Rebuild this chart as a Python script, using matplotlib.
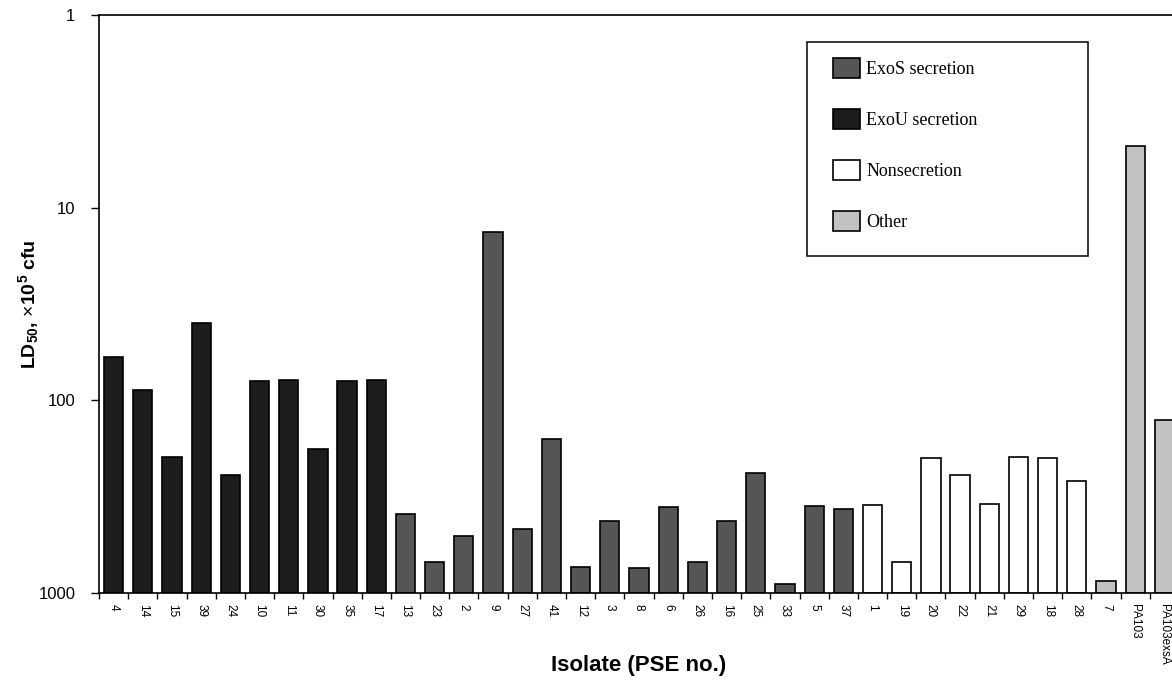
import numpy as np
import matplotlib
matplotlib.use('Agg')
import matplotlib.pyplot as plt
from matplotlib.patches import Patch, Rectangle

# LD50 per isolate (x10^5 cfu)
isolates = ['4', '14', '15', '39', '24', '10', '11', '30', '35', '17',
            '13', '23', '2', '9', '27', '41', '12', '3', '8', '6', '26', '16',
            '25', '33', '5', '37',
            '1', '19', '20', '22', '21', '29', '18', '28',
            '7', 'PA103', 'PA103exsA']
ld50 = [59.6, 88.7, 198, 39.7, 244, 79.4, 78.5, 179.5, 79.4, 78.5,
        391, 687, 508, 13.4, 466, 159, 733, 424, 741, 359, 690, 424,
        237, 902, 353, 367,
        348, 687, 200, 244, 344, 198, 200, 262,
        865, 4.79, 127]
groups = (['ExoU secretion'] * 10 + ['ExoS secretion'] * 16 +
          ['Nonsecretion'] * 8 + ['Other'] * 3)

legend_order = ['ExoS secretion', 'ExoU secretion', 'Nonsecretion', 'Other']
group_colors = {'ExoS secretion': '#555555',
                'ExoU secretion': '#1c1c1c',
                'Nonsecretion': '#ffffff',
                'Other': '#c2c2c2'}

plt.rcParams['font.family'] = 'Liberation Sans'
plt.rcParams['mathtext.fontset'] = 'custom'
plt.rcParams['mathtext.rm'] = 'Liberation Sans'
plt.rcParams['mathtext.bf'] = 'Liberation Sans:bold'

W, H = 1172, 698
fig = plt.figure(figsize=(W / 100, H / 100), dpi=100)
# axes runs a bit past the right edge of the figure, like the cropped original
ax = fig.add_axes([99 / W, 105 / H, 1080 / W, 578 / H])

x = np.arange(len(isolates))
vals = np.array(ld50)
base = 1000
ax.bar(x, base - vals, bottom=vals, width=0.66,
       color=[group_colors[g] for g in groups],
       edgecolor='black', linewidth=1.2)

ax.set_yscale('log')
ax.set_ylim(1000, 1)
ax.set_yticks([1, 10, 100, 1000])
ax.set_yticklabels(['1', '10', '100', '1000'])
ax.yaxis.set_minor_locator(matplotlib.ticker.NullLocator())
ax.tick_params(axis='y', direction='out', length=6, width=1, pad=11,
               labelsize=12)

ax.set_xlim(-0.5, len(isolates) - 0.5)
ax.set_xticks(x)
ax.set_xticklabels(isolates, rotation=-90, fontsize=8.5)
ax.set_xticks(np.arange(len(isolates) + 1) - 0.5, minor=True)
ax.tick_params(axis='x', which='major', length=0, pad=8)
ax.tick_params(axis='x', which='minor', direction='out', length=4, width=1)

for s in ax.spines.values():
    s.set_linewidth(1.2)

ax.set_ylabel(r'LD$_{\mathbf{50}}$, $\times$$\mathbf{10^5}$ cfu',
              fontsize=14, fontweight='bold')
ax.yaxis.set_label_coords(-0.053, 0.5)
ax.set_xlabel('Isolate (PSE no.)', fontsize=16, fontweight='bold')
ax.xaxis.set_label_coords(0.5, -0.108)

# legend: box drawn separately so it can be wider than its contents
handles = [Patch(facecolor=group_colors[g], edgecolor='black', linewidth=1.2)
           for g in legend_order]
leg = fig.legend(handles, legend_order, loc='upper left',
                 bbox_to_anchor=(833 / W, 1 - 58 / H), frameon=False,
                 borderpad=0, borderaxespad=0, handlelength=1.5,
                 handleheight=1.3, handletextpad=0.35, labelspacing=1.73,
                 prop={'family': 'Liberation Serif', 'size': 13})
fig.patches.append(Rectangle((807 / W, 1 - 256 / H), 281 / W, 214 / H,
                             transform=fig.transFigure, fill=False,
                             edgecolor='black', linewidth=1.1, zorder=5))

fig.savefig('out.png', dpi=100)
